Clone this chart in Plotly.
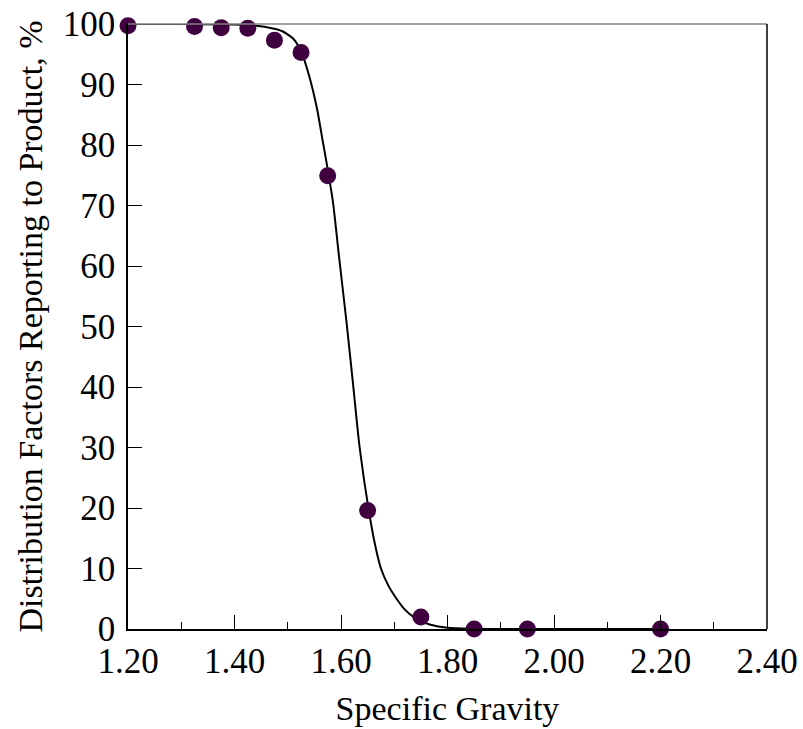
import plotly.graph_objects as go

# Measured distribution factors
sg_points = [1.20, 1.325, 1.375, 1.425, 1.475, 1.525, 1.575, 1.65, 1.75, 1.85, 1.95, 2.20]
pct_points = [99.7, 99.6, 99.4, 99.3, 97.3, 95.3, 74.9, 19.6, 2.0, 0.0, 0.0, 0.0]

# Fitted partition curve
sg_curve = [1.20, 1.30, 1.40, 1.44, 1.47, 1.49, 1.51, 1.525, 1.54, 1.555, 1.565, 1.575,
            1.585, 1.597, 1.61, 1.622, 1.635, 1.652, 1.665, 1.675, 1.69, 1.706, 1.72,
            1.736, 1.75, 1.768, 1.80, 1.85, 1.90, 2.00, 2.20]
pct_curve = [100, 100, 99.9, 99.7, 99.3, 98.8, 97.6, 95.5, 91.5, 86.0, 81.0, 76.0,
             70.5, 61.0, 51.0, 41.0, 30.0, 19.7, 13.5, 10.0, 7.0, 4.8, 3.2,
             2.0, 1.3, 0.7, 0.2, 0.05, 0, 0, 0]

x_ticks = [1.20, 1.40, 1.60, 1.80, 2.00, 2.20, 2.40]
x_tick_text = ["1.20", "1.40", "1.60", "1.80", "2.00", "2.20", "2.40"]
y_ticks = [0, 10, 20, 30, 40, 50, 60, 70, 80, 90, 100]

font_family = "Liberation Serif, Times New Roman, serif"
title_size = 34
tick_size = 35

fig = go.Figure()
fig.add_trace(go.Scatter(
    x=sg_curve, y=pct_curve, mode="lines",
    line=dict(color="black", width=2, shape="spline", smoothing=0.6),
    cliponaxis=False, hoverinfo="skip",
))
fig.add_trace(go.Scatter(
    x=sg_points, y=pct_points, mode="markers",
    marker=dict(color="#400040", size=17, line=dict(width=0)),
    cliponaxis=False,
))

fig.update_layout(
    width=803, height=729,
    margin=dict(l=128, r=36, t=24, b=100),
    paper_bgcolor="white", plot_bgcolor="white",
    showlegend=False,
    font=dict(family=font_family, size=title_size, color="black"),
    xaxis=dict(
        range=[1.20, 2.40], tickvals=x_ticks, ticktext=x_tick_text,
        ticks="inside", ticklen=14, tickwidth=1.2, tickcolor="black",
        minor=dict(dtick=0.1, ticks="inside", ticklen=7, tickwidth=1.2, tickcolor="black"),
        showline=True, linecolor="black", linewidth=1.5,
        showgrid=False, zeroline=False, automargin=False,
        title=dict(text="Specific Gravity", font=dict(size=title_size), standoff=16),
        tickfont=dict(size=tick_size),
        ticklabelstandoff=0,
    ),
    yaxis=dict(
        range=[0, 100], tickvals=y_ticks,
        ticks="inside", ticklen=14, tickwidth=1.2, tickcolor="black",
        showline=True, linecolor="black", linewidth=1.5,
        showgrid=False, zeroline=False, automargin=False,
        title=dict(text="Distribution Factors Reporting to Product, %", font=dict(size=title_size), standoff=10),
        tickfont=dict(size=tick_size),
        ticklabelstandoff=4,
    ),
    shapes=[
        dict(type="line", xref="paper", yref="paper", x0=0, x1=1, y0=1, y1=1,
             line=dict(color="#808080", width=1.5)),
        dict(type="line", xref="paper", yref="paper", x0=1, x1=1, y0=0, y1=1,
             line=dict(color="black", width=1.5)),
    ],
)

fig.write_html("out.html")
